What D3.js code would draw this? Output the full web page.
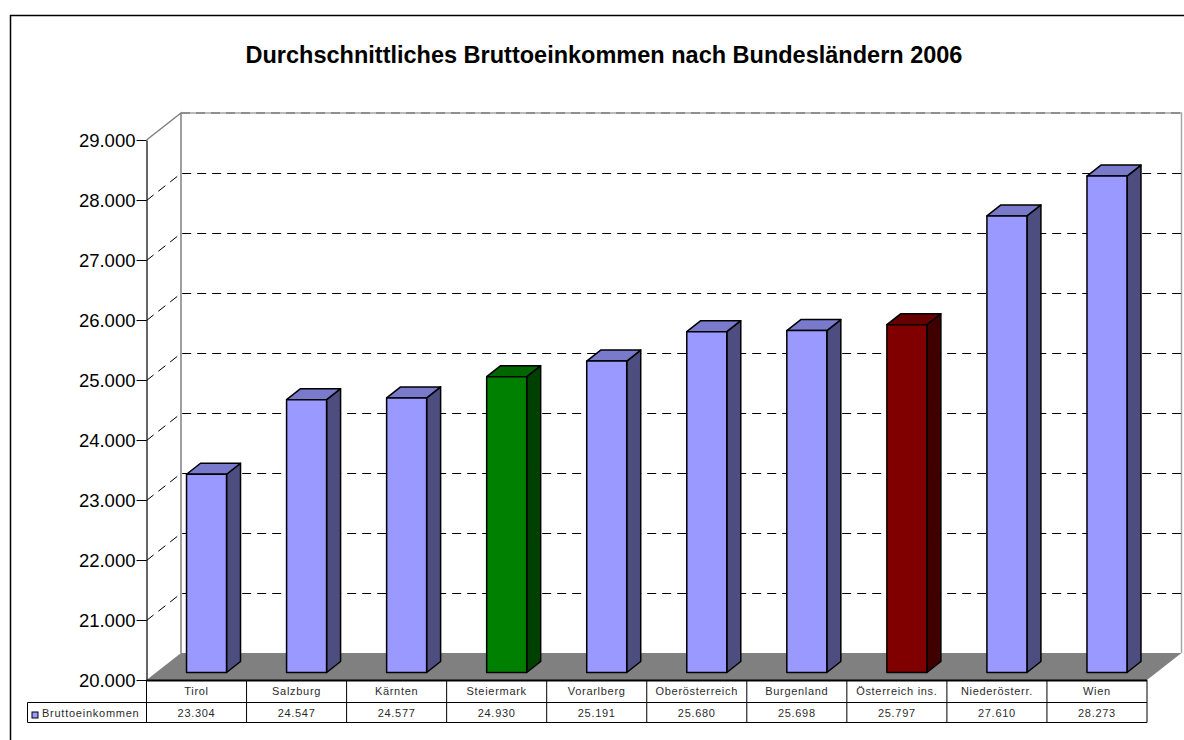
<!DOCTYPE html>
<html>
<head>
<meta charset="utf-8">
<script src="https://cdn.jsdelivr.net/npm/d3@7"></script>
<style>
  body { margin: 0; background: #fff; }
  text { font-family: "Liberation Sans", Arial, sans-serif; fill: #000; }
</style>
</head>
<body>
<svg id="chart" width="1184" height="740" style="display:block"></svg>
<script>
const categories = ["Tirol", "Salzburg", "Kärnten", "Steiermark", "Vorarlberg", "Oberösterreich", "Burgenland", "Österreich ins.", "Niederösterr.", "Wien"];
const values = [23304, 24547, 24577, 24930, 25191, 25680, 25698, 25797, 27610, 28273];
const yTicks = [20000, 21000, 22000, 23000, 24000, 25000, 26000, 27000, 28000, 29000];
const seriesName = "Bruttoeinkommen";
const chartTitle = "Durchschnittliches Bruttoeinkommen nach Bundesländern 2006";

const barColors = { "Steiermark": ["#008000", "#006600", "#004000"], "Österreich ins.": ["#800000", "#660000", "#400000"] };
const defaultColors = ["#9999ff", "#7a7acc", "#4d4d80"];

// front plane of the box and depth offset to the back wall
const plot = { left: 146.5, right: 1147, top: 140, bottom: 680 };
const depthX = 34.5, depthY = -27;

const fmt = d => d3.format(",")(d).replace(/,/g, ".");

const x = d3.scaleBand().domain(categories).range([plot.left, plot.right]);
const y = d3.scaleLinear().domain([20000, 29000]).range([plot.bottom, plot.top]);

const svg = d3.select("#chart");
const poly = pts => pts.map(p => p.join(",")).join(" ");

// outer frame, runs off the right and bottom of the picture
svg.append("path")
  .attr("d", "M10.5,745V15.5H1190")
  .attr("fill", "none").attr("stroke", "#000").attr("stroke-width", 1.5);

svg.append("text")
  .attr("x", 604).attr("y", 62.5)
  .attr("text-anchor", "middle")
  .style("font-size", "23.5px").style("font-weight", "bold")
  .text(chartTitle);

// floor
svg.append("polygon")
  .attr("points", poly([[plot.left, plot.bottom], [plot.right, plot.bottom], [plot.right + depthX, plot.bottom + depthY], [plot.left + depthX, plot.bottom + depthY]]))
  .attr("fill", "#808080");

// walls
svg.append("path")
  .attr("d", `M${plot.left},${plot.top}L${plot.left + depthX},${plot.top + depthY}V${plot.bottom + depthY}`)
  .attr("fill", "none").attr("stroke", "#808080").attr("stroke-width", 1.5);
svg.append("path")
  .attr("d", `M${plot.left + depthX},${plot.top + depthY}H${plot.right + depthX}V${plot.bottom + depthY}`)
  .attr("fill", "none").attr("stroke", "#a6a6a6").attr("stroke-width", 1.5);
svg.append("path")
  .attr("d", `M${plot.left + depthX},${plot.top + depthY}H${plot.right + depthX}`)
  .attr("fill", "none").attr("stroke", "#808080").attr("stroke-width", 1.5)
  .attr("stroke-dasharray", "9,6");

// gridlines, side wall and back wall
const grid = svg.append("g");
yTicks.slice(1, -1).forEach(t => {
  grid.append("path")
    .attr("d", `M${plot.left},${y(t) + 0.5}L${plot.left + depthX},${y(t) + depthY + 0.5}H${plot.right + depthX}`)
    .attr("fill", "none").attr("stroke", "#000")
    .attr("stroke-dasharray", "9,6");
});

// y axis
svg.append("g")
  .attr("transform", `translate(${plot.left},0)`)
  .call(d3.axisLeft(y).tickValues(yTicks).tickFormat(fmt).tickSize(10).tickSizeOuter(0).tickPadding(1))
  .call(g => g.select(".domain").attr("stroke-width", 1.2))
  .call(g => g.selectAll("text").attr("dy", "0.37em").style("font-size", "18.5px").style("font-family", '"Liberation Sans", Arial, sans-serif'));

// bars: sit slightly in from the front of the floor
const barWidth = 40, barLift = 7.5, barShift = 10;
const sideX = 14, sideY = -11;
const bars = svg.append("g").selectAll("g").data(categories).join("g")
  .attr("stroke", "#000").attr("stroke-width", 1.5).attr("stroke-linejoin", "round");

bars.each(function(d, i) {
  const g = d3.select(this);
  const colors = barColors[d] || defaultColors;
  const x0 = x(d) + x.bandwidth() / 2 - barWidth / 2 + barShift;
  const x1 = x0 + barWidth;
  const yTop = y(values[i]) - barLift;
  const yBottom = y(20000) - barLift;
  g.append("polygon")
    .attr("points", poly([[x1, yTop], [x1 + sideX, yTop + sideY], [x1 + sideX, yBottom + sideY], [x1, yBottom]]))
    .attr("fill", colors[2]);
  g.append("polygon")
    .attr("points", poly([[x0, yTop], [x0 + sideX, yTop + sideY], [x1 + sideX, yTop + sideY], [x1, yTop]]))
    .attr("fill", colors[1]);
  g.append("rect")
    .attr("x", x0).attr("y", yTop).attr("width", barWidth).attr("height", yBottom - yTop)
    .attr("fill", colors[0]);
});

// data table under the chart
const row1 = plot.bottom + 22.5, row2 = plot.bottom + 42.5, keyLeft = 27.5;
const table = svg.append("g").attr("stroke", "#000").attr("fill", "none");
table.append("line").attr("x1", plot.left).attr("x2", plot.right).attr("y1", plot.bottom + 0.5).attr("y2", plot.bottom + 0.5).attr("stroke-width", 2);
table.append("line").attr("x1", keyLeft).attr("x2", plot.right).attr("y1", row1).attr("y2", row1);
table.append("line").attr("x1", keyLeft).attr("x2", plot.right).attr("y1", row2).attr("y2", row2);
table.append("line").attr("x1", keyLeft).attr("x2", keyLeft).attr("y1", row1).attr("y2", row2);
table.selectAll(".sep").data([...categories, null]).join("line")
  .attr("class", "sep")
  .attr("x1", (d, i) => plot.left + i * x.bandwidth()).attr("x2", (d, i) => plot.left + i * x.bandwidth())
  .attr("y1", plot.bottom).attr("y2", row2);

const tableText = svg.append("g").attr("text-anchor", "middle").style("font-size", "11px").style("letter-spacing", "0.7px").style("opacity", 0.85);
tableText.selectAll(".cat").data(categories).join("text")
  .attr("class", "cat")
  .attr("x", d => x(d) + x.bandwidth() / 2).attr("y", plot.bottom + 15)
  .text(d => d);
tableText.selectAll(".val").data(values).join("text")
  .attr("class", "val")
  .attr("x", (d, i) => x(categories[i]) + x.bandwidth() / 2).attr("y", plot.bottom + 37)
  .text(fmt);

svg.append("rect")
  .attr("x", 32).attr("y", plot.bottom + 32).attr("width", 6).attr("height", 6)
  .attr("fill", defaultColors[0]).attr("stroke", "#000");
svg.append("text")
  .attr("x", 42).attr("y", plot.bottom + 37)
  .style("font-size", "11px").style("letter-spacing", "0.75px").style("opacity", 0.85)
  .text(seriesName);
</script>
</body>
</html>
